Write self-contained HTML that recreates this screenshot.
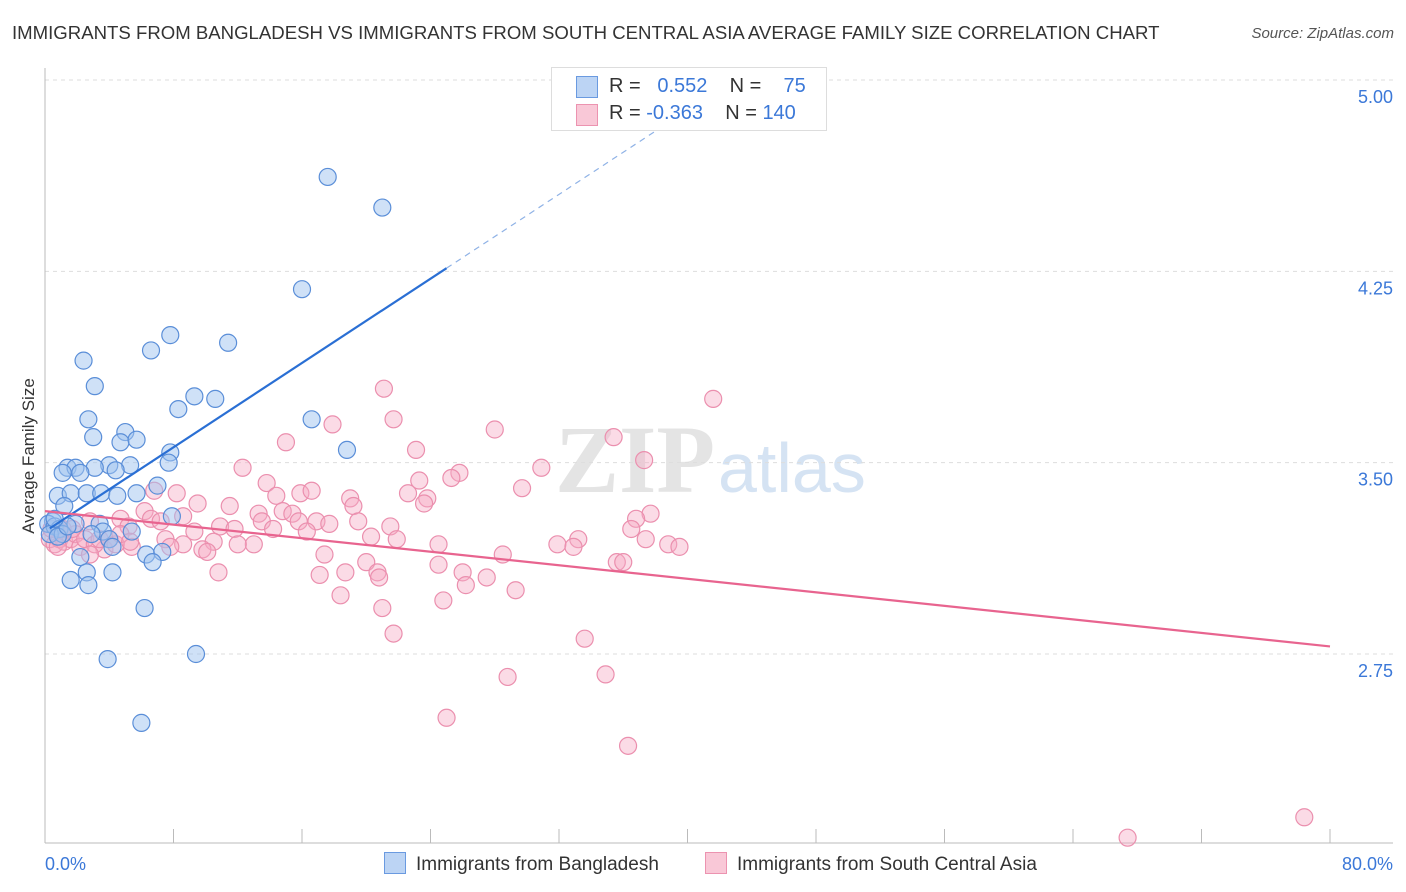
<!DOCTYPE html>
<html><head><meta charset="utf-8"><style>
body{margin:0;background:#fff;font-family:"Liberation Sans",sans-serif;}
#wrap{position:relative;width:1406px;height:892px;overflow:hidden}
.t{position:absolute;white-space:nowrap}
</style></head><body>
<div id="wrap">
<div class="t" style="left:12px;top:22px;font-size:18.6px;color:#333">IMMIGRANTS FROM BANGLADESH VS IMMIGRANTS FROM SOUTH CENTRAL ASIA AVERAGE FAMILY SIZE CORRELATION CHART</div>
<div class="t" style="right:12px;top:25px;font-size:15px;color:#555;font-style:italic">Source: ZipAtlas.com</div>
<svg id="svg" width="1406" height="892" style="position:absolute;left:0;top:0"></svg>
</div>
<script>
const xTicksPct=[0,80];
const yTicks=[2.75,3.5,4.25,5.0];
const blueX=[17.6,21.0,16.0,7.8,11.4,6.6,2.4,3.1,9.3,10.6,8.3,2.7,16.6,5.0,3.0,4.7,5.7,18.8,7.8,7.7,5.3,4.0,1.4,1.9,3.1,4.4,1.1,2.2,7.0,0.8,1.6,2.6,3.5,4.5,5.7,1.2,7.9,0.5,0.2,0.6,0.9,1.9,0.3,1.1,3.4,3.6,4.0,5.4,4.2,6.3,7.3,2.2,6.7,2.6,4.2,1.6,2.7,6.2,3.9,9.4,6.0,0.8,1.4,2.9,0.6];
const blueY=[4.62,4.50,4.18,4.00,3.97,3.94,3.90,3.80,3.76,3.75,3.71,3.67,3.67,3.62,3.60,3.58,3.59,3.55,3.54,3.50,3.49,3.49,3.48,3.48,3.48,3.47,3.46,3.46,3.41,3.37,3.38,3.38,3.38,3.37,3.38,3.33,3.29,3.27,3.26,3.25,3.24,3.26,3.22,3.22,3.26,3.23,3.20,3.23,3.17,3.14,3.15,3.13,3.11,3.07,3.07,3.04,3.02,2.93,2.73,2.75,2.48,3.21,3.25,3.22,3.28];
const pinkX=[78.4,67.4,41.6,21.1,21.7,17.9,28.0,35.4,15.0,23.1,37.3,12.3,30.9,25.8,25.3,23.3,13.8,29.7,6.8,8.2,15.9,16.6,14.4,22.6,19.0,23.8,23.6,9.5,11.5,19.2,6.2,14.8,15.4,37.7,13.3,4.7,6.6,36.8,8.6,15.8,7.2,13.5,19.5,2.8,16.9,17.7,21.5,10.9,11.8,5.2,14.2,16.3,9.3,36.5,0.9,20.3,7.5,33.2,21.9,10.5,31.9,37.4,24.5,13.0,12.0,8.6,32.9,38.8,39.5,5.4,9.8,3.7,7.8,10.1,17.4,28.5,20.0,24.5,35.6,36.0,10.8,17.1,18.7,20.7,26.0,27.5,26.2,20.8,29.3,18.4,24.8,21.0,21.7,33.6,34.9,28.8,25.0,36.3,0.3,0.6,0.9,1.2,1.6,1.9,2.2,2.5,3.1,3.4,4.0,4.4,1.1,1.7,0.4,0.8,2.8,4.7,5.3];
const pinkY=[2.11,2.03,3.75,3.79,3.67,3.65,3.63,3.60,3.58,3.55,3.51,3.48,3.48,3.46,3.44,3.43,3.42,3.40,3.39,3.38,3.38,3.39,3.37,3.38,3.36,3.36,3.34,3.34,3.33,3.33,3.31,3.31,3.30,3.30,3.30,3.28,3.28,3.28,3.29,3.27,3.27,3.27,3.27,3.27,3.27,3.26,3.25,3.25,3.24,3.25,3.24,3.23,3.23,3.24,3.24,3.21,3.20,3.20,3.20,3.19,3.18,3.20,3.18,3.18,3.18,3.18,3.17,3.18,3.17,3.17,3.16,3.16,3.17,3.15,3.14,3.14,3.11,3.10,3.11,3.11,3.07,3.06,3.07,3.07,3.07,3.05,3.02,3.05,3.00,2.98,2.96,2.93,2.83,2.81,2.67,2.66,2.50,2.39,3.20,3.18,3.20,3.19,3.20,3.22,3.17,3.20,3.18,3.20,3.20,3.18,3.24,3.24,3.24,3.17,3.14,3.22,3.19];
const blueFit=[3.23,0.0413];
const pinkFit=[3.31,-0.00663];
const X0=45,X1=1330,YT=80,YB=654;
const sx=v=>X0+(v/80)*(X1-X0);
const sy=v=>YT+(5-v)/(5-2.75)*(YB-YT);
const svg=document.getElementById('svg');
const NS='http://www.w3.org/2000/svg';
function mk(tag,attrs,parent){const e=document.createElementNS(NS,tag);for(const k in attrs)e.setAttribute(k,attrs[k]);(parent||svg).appendChild(e);return e;}
let w=mk('text',{x:555,y:492,'font-size':96,fill:'#e4e4e4','font-family':'Liberation Serif, serif','font-weight':'bold'});w.textContent='ZIP';


let w2=mk('text',{x:718,y:492,'font-size':70,fill:'#d5e3f3','font-family':'Liberation Sans, sans-serif'});w2.textContent='atlas';


yTicks.forEach(v=>{
 const l=mk('line',{x1:X0,x2:1393,y1:sy(v),y2:sy(v),stroke:'#ddd','stroke-dasharray':'4,4'});
 
 
 const t=mk('text',{x:1393,y:sy(v)+23,'text-anchor':'end','font-size':18,fill:'#3b78d8'});t.textContent=v.toFixed(2);
 
 
});
mk('line',{x1:X0,x2:X0,y1:68,y2:843,stroke:'#bbb'});
mk('line',{x1:X0,x2:1393,y1:843,y2:843,stroke:'#bbb'});
for(let i=0;i<=10;i++){const x=sx(i*8);const tk=mk('line',{x1:x,x2:x,y1:829,y2:843,stroke:'#bbb'});
 
 }
const xl=mk('text',{x:45,y:870,'font-size':18,fill:'#3b78d8'});xl.textContent=xTicksPct[0].toFixed(1)+'%';


const xr=mk('text',{x:1393,y:870,'text-anchor':'end','font-size':18,fill:'#3b78d8'});xr.textContent=xTicksPct[1].toFixed(1)+'%';


const yt=mk('text',{x:34,y:456,'font-size':17,fill:'#333','text-anchor':'middle',transform:'rotate(-90 34 456)'});yt.textContent='Average Family Size';


pinkX.forEach((v,i)=>{const c=mk('circle',{cx:sx(v),cy:sy(pinkY[i]),r:8.5,fill:'rgba(246,170,196,0.42)',stroke:'#eb8fae','stroke-width':1.2});
 
 });
blueX.forEach((v,i)=>{const c=mk('circle',{cx:sx(v),cy:sy(blueY[i]),r:8.5,fill:'rgba(160,195,240,0.5)',stroke:'#5a8ed8','stroke-width':1.2});
 
 });
const bl=mk('line',{x1:sx(0.3),y1:sy(blueFit[0]+blueFit[1]*0.3),x2:sx(25),y2:sy(blueFit[0]+blueFit[1]*25),stroke:'#2a6fd4','stroke-width':2.2});


const bd=mk('line',{x1:sx(25),y1:sy(blueFit[0]+blueFit[1]*25),x2:sx(42.5),y2:sy(blueFit[0]+blueFit[1]*42.5),stroke:'#8fb2e6','stroke-width':1.2,'stroke-dasharray':'6,5'});


const pl=mk('line',{x1:sx(0),y1:sy(pinkFit[0]),x2:sx(80),y2:sy(pinkFit[0]+pinkFit[1]*80),stroke:'#e8648f','stroke-width':2.2});


</script>
<div class="t" style="left:551px;top:67px;width:274px;height:62px;background:#fff;border:1px solid #ddd;font-size:20px;color:#333">
 <div style="position:absolute;left:24px;top:8px;width:20px;height:20px;background:#bcd4f4;border:1px solid #6a9ae0"></div>
 <div style="position:absolute;left:57px;top:7px">R = &nbsp;<span style="color:#3b78d8">&nbsp;0.552</span>&nbsp;&nbsp;&nbsp; N = &nbsp;&nbsp;<span style="color:#3b78d8"> 75</span></div>
 <div style="position:absolute;left:24px;top:36px;width:20px;height:20px;background:#f9c8d7;border:1px solid #ec93b0"></div>
 <div style="position:absolute;left:57px;top:34px">R = <span style="color:#3b78d8">-0.363</span>&nbsp;&nbsp;&nbsp; N = <span style="color:#3b78d8">140</span></div>
</div>
<div class="t" style="left:384px;top:852px;font-size:19px;color:#333"><span style="display:inline-block;width:20px;height:20px;background:#bcd4f4;border:1px solid #6a9ae0;vertical-align:-4px;margin-right:10px"></span>Immigrants from Bangladesh</div>
<div class="t" style="left:705px;top:852px;font-size:19px;color:#333"><span style="display:inline-block;width:20px;height:20px;background:#f9c8d7;border:1px solid #ec93b0;vertical-align:-4px;margin-right:10px"></span>Immigrants from South Central Asia</div>
</body></html>
